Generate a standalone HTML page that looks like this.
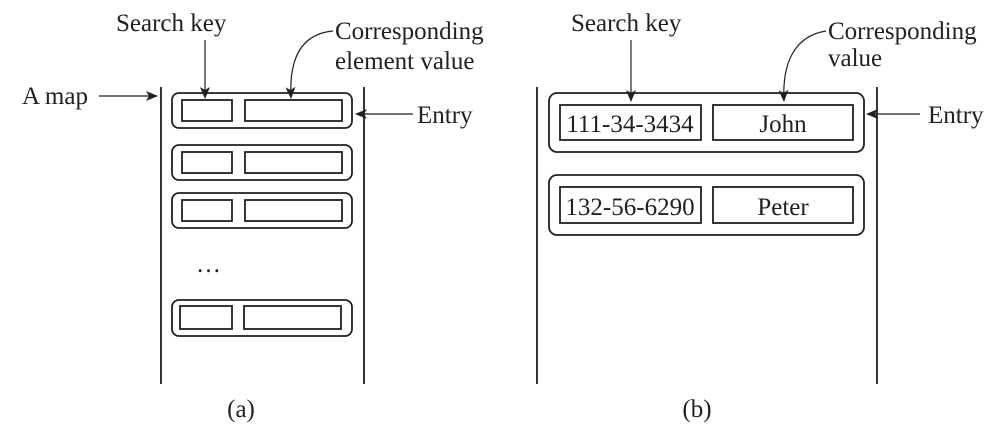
<!DOCTYPE html>
<html><head><meta charset="utf-8"><style>
html,body{margin:0;padding:0;background:#fff;}
svg{display:block;}
text{font-family:"Liberation Serif","Times New Roman",serif;font-size:25px;fill:#231f20;}
</style></head><body>
<svg width="1004" height="426" viewBox="0 0 1004 426">
<defs>
<marker id="ah" viewBox="0 0 12 10" refX="11" refY="5" markerWidth="12" markerHeight="10" markerUnits="userSpaceOnUse" orient="auto">
<path d="M0,0 L12,5 L0,10 L3,5 Z" fill="#231f20"/></marker>
</defs>
<g stroke="#231f20" fill="none" stroke-width="1.8">
<line x1="161" y1="87" x2="161" y2="384"/>
<line x1="364" y1="87" x2="364" y2="384"/>
<g><rect x="172" y="93" width="180" height="35" rx="7"/><rect x="182" y="100" width="50" height="21"/><rect x="245" y="100" width="97" height="21"/></g>
<g><rect x="172" y="145" width="180" height="35" rx="7"/><rect x="182" y="152" width="50" height="21"/><rect x="245" y="152" width="97" height="21"/></g>
<g><rect x="172" y="193" width="180" height="35" rx="7"/><rect x="182" y="200" width="50" height="21"/><rect x="245" y="200" width="97" height="21"/></g>
<g><rect x="172" y="300" width="180" height="36" rx="7"/><rect x="180" y="306" width="52" height="23"/><rect x="244" y="306" width="97" height="23"/></g>
<line x1="99" y1="96" x2="157" y2="96" stroke-width="1.2" marker-end="url(#ah)"/>
<line x1="205" y1="40" x2="205" y2="98" stroke-width="1.2" marker-end="url(#ah)"/>
<path d="M333,31 C300,34 289,60 291,98" stroke-width="1.2" marker-end="url(#ah)"/>
<line x1="413" y1="114" x2="356" y2="114" stroke-width="1.2" marker-end="url(#ah)"/>
</g>
<text x="196" y="272">…</text>
<text x="22" y="104">A map</text>
<text x="116" y="31">Search key</text>
<text x="335" y="39">Corresponding</text>
<text x="335" y="69">element value</text>
<text x="417" y="123">Entry</text>
<text x="241" y="417" text-anchor="middle">(a)</text>

<g stroke="#231f20" fill="none" stroke-width="1.8">
<line x1="537" y1="87" x2="537" y2="384"/>
<line x1="877" y1="87" x2="877" y2="384"/>
<g><rect x="549" y="93" width="315" height="59" rx="8"/><rect x="560" y="105" width="141" height="35"/><rect x="713" y="105" width="140" height="35"/></g>
<g><rect x="549" y="175" width="315" height="60" rx="8"/><rect x="560" y="187" width="141" height="36"/><rect x="713" y="187" width="140" height="36"/></g>
<line x1="631" y1="40" x2="631" y2="101" stroke-width="1.2" marker-end="url(#ah)"/>
<path d="M826,31 C795,36 782,62 784,101" stroke-width="1.2" marker-end="url(#ah)"/>
<line x1="920" y1="114" x2="867" y2="114" stroke-width="1.2" marker-end="url(#ah)"/>
</g>
<text x="630" y="132" text-anchor="middle">111-34-3434</text>
<text x="783" y="132" text-anchor="middle">John</text>
<text x="630" y="215" text-anchor="middle">132-56-6290</text>
<text x="783" y="215" text-anchor="middle">Peter</text>
<text x="571" y="31">Search key</text>
<text x="828" y="39">Corresponding</text>
<text x="828" y="66">value</text>
<text x="928" y="123">Entry</text>
<text x="697" y="417" text-anchor="middle">(b)</text>
</svg>
</body></html>
